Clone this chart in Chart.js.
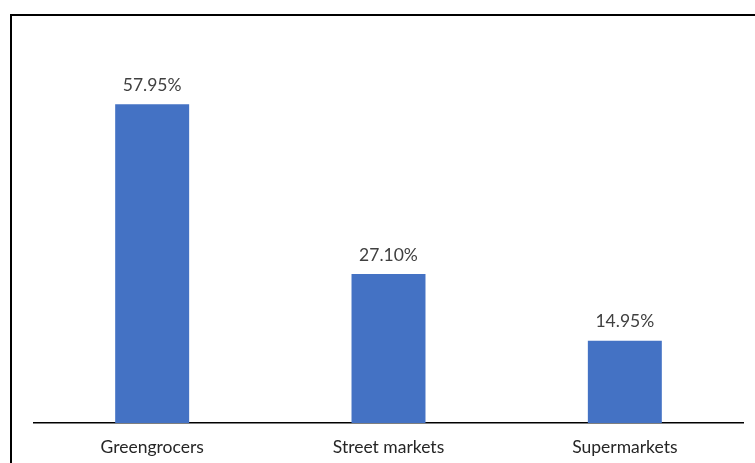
<!DOCTYPE html>
<html>
<head>
<meta charset="utf-8">
<script src="https://cdn.jsdelivr.net/npm/chart.js@4"></script>
<style>
  html, body { margin: 0; padding: 0; background: #ffffff; overflow: hidden; }
  #wrap { position: relative; width: 755px; height: 463px; overflow: hidden; }
  #frame { position: absolute; left: 10px; top: 14px; width: 800px; height: 500px;
           border-left: 2px solid #000; border-top: 2px solid #000; box-sizing: border-box; }
  canvas { position: absolute; left: 0; top: 0; }
</style>
</head>
<body>
<div id="wrap">
  <div id="frame"></div>
  <canvas id="c" width="755" height="480"></canvas>
</div>
<script>
const categories = ["Greengrocers", "Street markets", "Supermarkets"];
const shares = [57.95, 27.10, 14.95];

const labelPlugin = {
  id: 'valueLabels',
  afterDatasetsDraw(chart) {
    const ctx = chart.ctx;
    const meta = chart.getDatasetMeta(0);
    ctx.save();
    ctx.fillStyle = '#404040';
    ctx.font = '17.5px Lato, "Noto Sans", sans-serif';
    ctx.textAlign = 'center';
    ctx.textBaseline = 'middle';
    meta.data.forEach((bar, i) => {
      ctx.fillText(shares[i].toFixed(2) + '%', bar.x, bar.y - 19);
    });
    ctx.restore();
  }
};

new Chart(document.getElementById('c'), {
  type: 'bar',
  data: {
    labels: categories,
    datasets: [{
      data: shares,
      backgroundColor: '#4472C4',
      categoryPercentage: 1.0,
      barPercentage: 0.313
    }]
  },
  options: {
    responsive: false,
    animation: false,
    devicePixelRatio: 1,
    layout: { padding: { left: 34, right: 12, top: 38, bottom: 8 } },
    plugins: { legend: { display: false }, tooltip: { enabled: false } },
    scales: {
      x: {
        grid: { display: false, drawTicks: false },
        border: { display: true, color: '#000000', width: 1.5 },
        ticks: { color: '#262626', padding: 14, font: { family: 'Lato, "Noto Sans", sans-serif', size: 17.5 } }
      },
      y: {
        display: false,
        min: 0,
        max: 70
      }
    }
  },
  plugins: [labelPlugin]
});
</script>
</body>
</html>
